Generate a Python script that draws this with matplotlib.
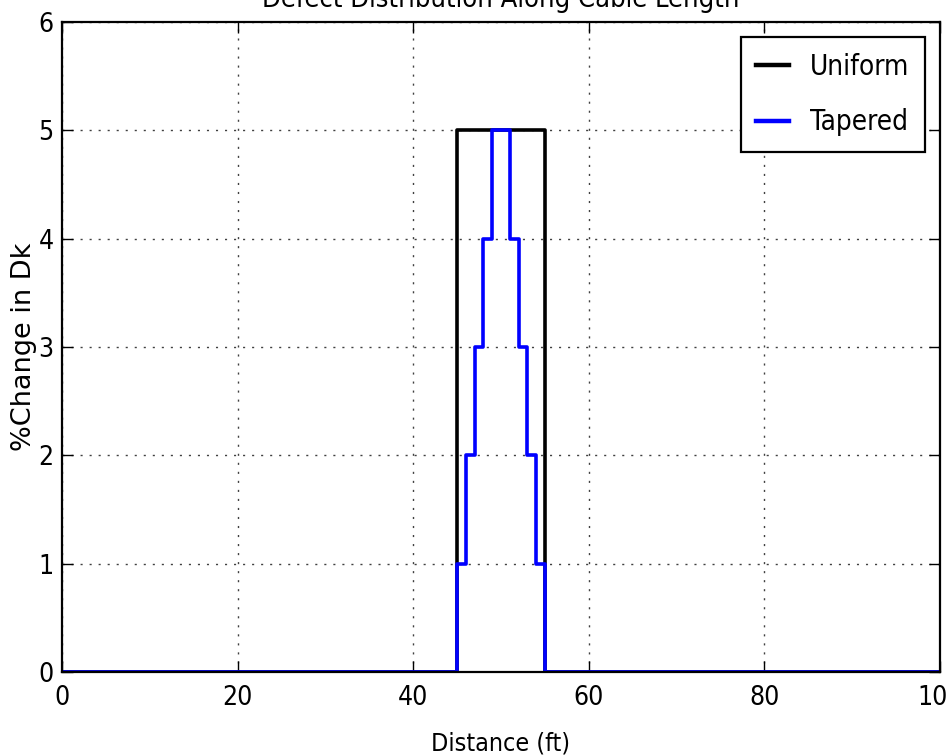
import matplotlib
matplotlib.use('Agg')
import matplotlib.pyplot as plt

# step profiles along the cable, drawn with where='post'
uniform_x = [0, 45, 55, 100]
uniform_y = [0, 5, 0, 0]
tapered_x = [0, 45, 46, 47, 48, 49, 51, 52, 53, 54, 55, 100]
tapered_y = [0, 1, 2, 3, 4, 5, 4, 3, 2, 1, 0, 0]

xticks = [0, 20, 40, 60, 80, 100]
yticks = [0, 1, 2, 3, 4, 5, 6]

plt.rcParams['font.family'] = 'DejaVu Sans'
plt.rcParams['font.stretch'] = 'condensed'

fig = plt.figure(figsize=(9.48, 7.55), dpi=100)
ax = fig.add_axes([0.0654, 0.1099, 0.9262, 0.8610])

ax.step(uniform_x, uniform_y, where='post', color='k', lw=2.6, label='Uniform')
ax.step(tapered_x, tapered_y, where='post', color='b', lw=2.6, label='Tapered')

ax.set_xlim(0, 100)
ax.set_ylim(0, 6)
ax.set_xticks(xticks)
ax.set_yticks(yticks)
ax.tick_params(direction='in', top=True, right=True, length=8, width=1,
               labelsize=19)
ax.tick_params(axis='x', pad=9)
ax.tick_params(axis='y', pad=6)
for s in ax.spines.values():
    s.set_linewidth(1.6)
ax.grid(True, linestyle=(0, (1.5, 5)), color='0.25', lw=1)

ax.set_title('Defect Distribution Along Cable Length', fontsize=19.5, pad=11)
ax.set_xlabel('Distance (ft)', fontsize=18, labelpad=15)
ax.set_ylabel('%Change in Dk', fontsize=19.5, stretch='normal', labelpad=1)

leg = ax.legend(loc='upper right', fontsize=20, fancybox=False, framealpha=1,
                edgecolor='k', handlelength=1.2, handletextpad=0.75,
                borderpad=0.55, borderaxespad=0.55, labelspacing=1.0)
leg.get_frame().set_linewidth(1.6)
for h in leg.get_lines():
    h.set_linewidth(3.2)

fig.savefig('out.png', dpi=100)
